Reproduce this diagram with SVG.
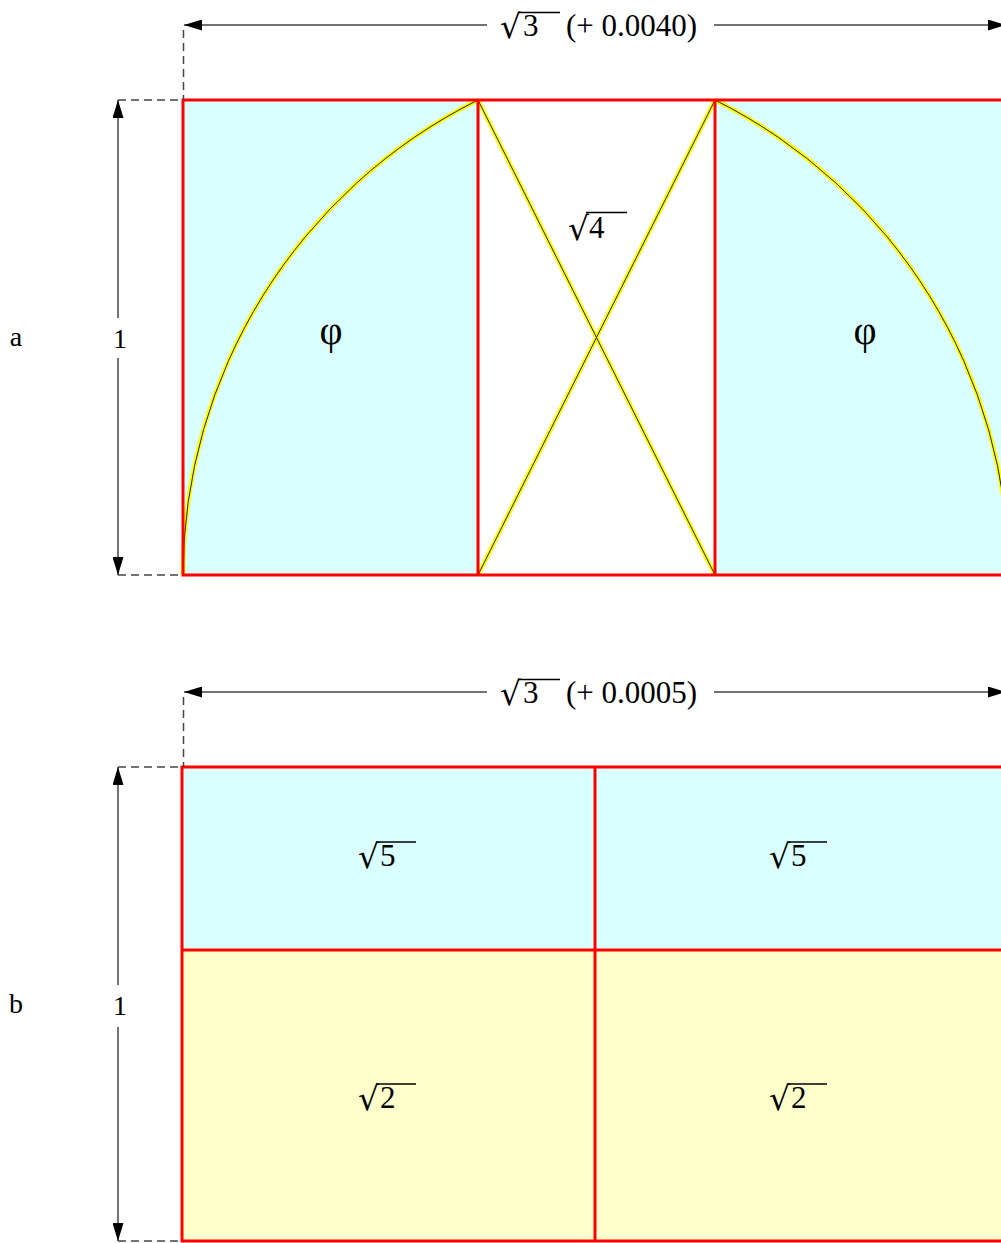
<svg xmlns="http://www.w3.org/2000/svg" width="1001" height="1243" viewBox="0 0 1001 1243">
<defs>
<marker id="ah" viewBox="0 0 18 11" refX="18" refY="5.5" markerWidth="18" markerHeight="11" markerUnits="userSpaceOnUse" orient="auto">
<path d="M0,0 L18,5.5 L0,11 Z" fill="#000"/>
</marker>
</defs>
<style>
.dim{stroke:#444;stroke-width:1.5;fill:none;marker-end:url(#ah)}
.dash{stroke:#444;stroke-width:1.5;fill:none;stroke-dasharray:8,5}
.red{stroke:#ff0000;stroke-width:3;fill:none}
.cyan{fill:#d9ffff;stroke:none}
.yel{fill:#ffffcc;stroke:none}
.gy{stroke:#ffff00;stroke-width:4.5;fill:none}
.gk{stroke:#222;stroke-width:1;fill:none}
.t{font-family:"Liberation Serif","Times New Roman",serif;font-size:31px;fill:#000}
.rt{font-family:"DejaVu Sans",sans-serif;font-size:33px;fill:#000}
.phi{font-family:"Liberation Serif","Times New Roman",serif;font-size:40px;fill:#000}
.s{font-family:"Liberation Serif","Times New Roman",serif;font-size:28px;fill:#000}
.vin{stroke:#000;stroke-width:1.5}
</style>
<g id="panel-a">
<g id="a-fills">
<rect class="cyan" x="183" y="100" width="295" height="475"/>
<rect class="cyan" x="715" y="100" width="291" height="475"/>
</g>
<g id="a-golden">
<path class="gy" d="M183,575 A531.5,531.5 0 0 1 478,100"/>
<path class="gk" d="M183,575 A531.5,531.5 0 0 1 478,100"/>
<path class="gy" d="M715,100 A531.5,531.5 0 0 1 1009,575"/>
<path class="gk" d="M715,100 A531.5,531.5 0 0 1 1009,575"/>
<path class="gy" d="M478,100 L715,575 M715,100 L478,575"/>
<path class="gk" d="M478,100 L715,575 M715,100 L478,575"/>
</g>
<g id="a-frame">
<rect class="red" x="183" y="100" width="823" height="475"/>
<path class="red" d="M478,100 V575 M715,100 V575"/>
</g>
<g id="a-labels">
<text class="phi" x="331" y="344" text-anchor="middle">φ</text>
<text class="phi" x="865" y="344" text-anchor="middle">φ</text>
<text class="rt" x="568" y="240">√</text>
<text class="t" x="589" y="238">4</text>
<line class="vin" x1="586" y1="212.5" x2="627" y2="212.5"/>
</g>
</g>
<g id="panel-b">
<g id="b-fills">
<rect class="cyan" x="182" y="767" width="824" height="183"/>
<rect class="yel" x="182" y="950" width="824" height="291"/>
</g>
<g id="b-frame">
<rect class="red" x="182" y="767" width="824" height="474"/>
<path class="red" d="M595,767 V1241 M182,950 H1006"/>
</g>
<g id="b-labels">
<text class="rt" x="358" y="868">√</text>
<text class="t" x="380" y="866">5</text>
<line class="vin" x1="376" y1="842" x2="416" y2="842"/>
<text class="rt" x="769" y="868">√</text>
<text class="t" x="791" y="866">5</text>
<line class="vin" x1="787" y1="842" x2="827" y2="842"/>
<text class="rt" x="358" y="1110">√</text>
<text class="t" x="380" y="1108">2</text>
<line class="vin" x1="376" y1="1084" x2="416" y2="1084"/>
<text class="rt" x="769" y="1110">√</text>
<text class="t" x="791" y="1108">2</text>
<line class="vin" x1="787" y1="1084" x2="827" y2="1084"/>
</g>
</g>
<g id="connectors">
<path class="dash" d="M183.5,30 V100 M118,100 H183"/>
<path class="dash" d="M118,575 H183"/>
<path class="dim" d="M487,25 H184"/>
<path class="dim" d="M714,25 H1006"/>
<path class="dim" d="M118,318 V100"/>
<path class="dim" d="M118,358 V575"/>
<path class="dash" d="M183.5,697 V767 M118,767 H182"/>
<path class="dash" d="M118,1241 H182"/>
<path class="dim" d="M487,692 H184"/>
<path class="dim" d="M714,692 H1006"/>
<path class="dim" d="M118,985 V767"/>
<path class="dim" d="M118,1027 V1241"/>
</g>
<g id="dim-labels">
<text class="rt" x="500" y="38">√</text>
<text class="t" x="523" y="36">3</text>
<line class="vin" x1="518" y1="12.5" x2="560" y2="12.5"/>
<text class="t" x="566" y="36">(+ 0.0040)</text>
<text class="rt" x="500" y="705">√</text>
<text class="t" x="523" y="703">3</text>
<line class="vin" x1="518" y1="679.5" x2="560" y2="679.5"/>
<text class="t" x="566" y="703">(+ 0.0005)</text>
<text class="s" x="120" y="348" text-anchor="middle">1</text>
<text class="s" x="120" y="1015" text-anchor="middle">1</text>
<text class="s" x="16" y="346" text-anchor="middle">a</text>
<text class="s" x="16" y="1013" text-anchor="middle">b</text>
</g>
</svg>
